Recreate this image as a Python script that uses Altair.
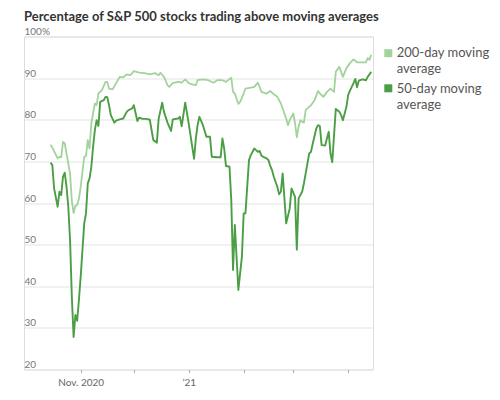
import altair as alt
import pandas as pd

title_text = "Percentage of S&P 500 stocks trading above moving averages"
series_names = ["200-day moving average", "50-day moving average"]
legend_lines = [["200-day moving", "average"], ["50-day moving", "average"]]
series_colors = ["#a2d39b", "#4c9e45"]

dates_200 = [
    "2020-10-15", "2020-10-16", "2020-10-19", "2020-10-20", "2020-10-21", "2020-10-22",
    "2020-10-23", "2020-10-25", "2020-10-26", "2020-10-27", "2020-10-28", "2020-10-29",
    "2020-10-30", "2020-10-31", "2020-11-01", "2020-11-03", "2020-11-04", "2020-11-05",
    "2020-11-06", "2020-11-07", "2020-11-09", "2020-11-10", "2020-11-11", "2020-11-13",
    "2020-11-15", "2020-11-16", "2020-11-17", "2020-11-19", "2020-11-21", "2020-11-23",
    "2020-11-25", "2020-11-27", "2020-11-29", "2020-12-01", "2020-12-04", "2020-12-07",
    "2020-12-10", "2020-12-13", "2020-12-15", "2020-12-16", "2020-12-18", "2020-12-20",
    "2020-12-21", "2020-12-23", "2020-12-26", "2020-12-28", "2020-12-30", "2021-01-01",
    "2021-01-03", "2021-01-05", "2021-01-06", "2021-01-09", "2021-01-12", "2021-01-15",
    "2021-01-17", "2021-01-20", "2021-01-22", "2021-01-25", "2021-01-26", "2021-01-27",
    "2021-01-29", "2021-01-30", "2021-02-01", "2021-02-02", "2021-02-05", "2021-02-07",
    "2021-02-09", "2021-02-10", "2021-02-11", "2021-02-14", "2021-02-16", "2021-02-18",
    "2021-02-20", "2021-02-22", "2021-02-23", "2021-02-25", "2021-02-26", "2021-02-27",
    "2021-03-01", "2021-03-02", "2021-03-03", "2021-03-04", "2021-03-05", "2021-03-07",
    "2021-03-08", "2021-03-11", "2021-03-13", "2021-03-15", "2021-03-16", "2021-03-18",
    "2021-03-20", "2021-03-22", "2021-03-24", "2021-03-25", "2021-03-27", "2021-03-29",
    "2021-03-31", "2021-04-02", "2021-04-04", "2021-04-06", "2021-04-09", "2021-04-11",
    "2021-04-12", "2021-04-13", "2021-04-14",
]
values_200 = [
    74.0, 73.3, 70.7, 71.1, 71.0, 74.7,
    74.3, 69.5, 67.0, 60.5, 57.6, 59.3,
    59.5, 61.0, 63.9, 71.1, 71.3, 75.1,
    73.1, 79.1, 83.9, 83.5, 86.3, 87.1,
    89.1, 89.1, 87.5, 87.3, 88.8, 90.3,
    90.2, 90.9, 90.7, 91.7, 91.3, 91.2,
    90.9, 91.2, 90.7, 91.3, 90.3, 88.3,
    87.9, 88.8, 89.1, 88.9, 89.7, 88.8,
    88.5, 88.3, 89.5, 89.7, 89.5, 88.9,
    89.5, 89.5, 89.1, 90.1, 86.7, 86.3,
    83.8, 84.3, 86.3, 87.5, 87.7, 87.9,
    88.9, 87.9, 86.7, 86.3, 86.9, 86.1,
    85.5, 83.9, 82.7, 80.3, 78.7, 79.9,
    81.5, 79.1, 75.8, 78.3, 79.9, 79.3,
    82.3, 83.5, 84.7, 86.9, 86.3, 85.5,
    86.7, 87.5, 86.7, 91.5, 92.7, 90.3,
    92.4, 93.6, 94.5, 93.8, 93.8, 93.8,
    94.8, 94.4, 95.6,
]

dates_50 = [
    "2020-10-15", "2020-10-16", "2020-10-17", "2020-10-19", "2020-10-20", "2020-10-21",
    "2020-10-22", "2020-10-23", "2020-10-24", "2020-10-25", "2020-10-26", "2020-10-27",
    "2020-10-28", "2020-10-29", "2020-10-30", "2020-10-31", "2020-11-01", "2020-11-03",
    "2020-11-04", "2020-11-05", "2020-11-06", "2020-11-07", "2020-11-08", "2020-11-09",
    "2020-11-10", "2020-11-11", "2020-11-12", "2020-11-14", "2020-11-15", "2020-11-16",
    "2020-11-17", "2020-11-18", "2020-11-20", "2020-11-21", "2020-11-23", "2020-11-25",
    "2020-11-27", "2020-11-28", "2020-11-30", "2020-12-01", "2020-12-03", "2020-12-04",
    "2020-12-06", "2020-12-08", "2020-12-10", "2020-12-12", "2020-12-14", "2020-12-15",
    "2020-12-17", "2020-12-18", "2020-12-20", "2020-12-22", "2020-12-23", "2020-12-26",
    "2020-12-27", "2020-12-28", "2020-12-30", "2021-01-01", "2021-01-04", "2021-01-05",
    "2021-01-06", "2021-01-07", "2021-01-09", "2021-01-11", "2021-01-13", "2021-01-14",
    "2021-01-17", "2021-01-19", "2021-01-20", "2021-01-21", "2021-01-22", "2021-01-24",
    "2021-01-25", "2021-01-26", "2021-01-27", "2021-01-29", "2021-01-30", "2021-01-31",
    "2021-02-01", "2021-02-02", "2021-02-04", "2021-02-05", "2021-02-07", "2021-02-08",
    "2021-02-09", "2021-02-10", "2021-02-11", "2021-02-12", "2021-02-14", "2021-02-15",
    "2021-02-16", "2021-02-17", "2021-02-18", "2021-02-20", "2021-02-21", "2021-02-22",
    "2021-02-23", "2021-02-25", "2021-02-27", "2021-02-28", "2021-03-02", "2021-03-03",
    "2021-03-04", "2021-03-06", "2021-03-07", "2021-03-09", "2021-03-10", "2021-03-11",
    "2021-03-12", "2021-03-14", "2021-03-15", "2021-03-16", "2021-03-17", "2021-03-19",
    "2021-03-20", "2021-03-21", "2021-03-22", "2021-03-23", "2021-03-25", "2021-03-27",
    "2021-03-28", "2021-03-29", "2021-03-31", "2021-04-01", "2021-04-02", "2021-04-04",
    "2021-04-05", "2021-04-06", "2021-04-07", "2021-04-09", "2021-04-11", "2021-04-12",
    "2021-04-14",
]
values_50 = [
    69.7, 69.1, 63.5, 59.1, 62.7, 61.9,
    66.3, 67.3, 63.9, 59.1, 51.1, 37.5,
    27.8, 33.1, 31.7, 36.7, 42.3, 55.1,
    57.5, 64.7, 65.9, 68.7, 73.5, 77.5,
    79.9, 78.5, 84.3, 84.7, 85.5, 85.4,
    83.5, 81.1, 79.3, 79.8, 80.1, 80.3,
    81.9, 82.3, 82.7, 83.5, 79.7, 80.5,
    80.2, 80.2, 80.0, 75.1, 74.5, 80.2,
    84.1, 81.9, 79.3, 77.3, 80.1, 80.3,
    80.7, 78.4, 84.1, 79.0, 70.6, 75.5,
    78.7, 80.7, 78.7, 75.9, 75.9, 71.1,
    71.0, 71.0, 75.5, 73.1, 68.9, 68.7,
    60.7, 43.9, 54.7, 39.1, 43.1, 47.1,
    57.5, 57.5, 70.3, 71.5, 73.1, 72.7,
    72.3, 72.5, 71.4, 71.1, 70.7, 70.3,
    68.9, 67.9, 66.3, 63.9, 62.1, 62.7,
    67.1, 55.1, 58.7, 63.5, 61.5, 48.8,
    61.1, 62.7, 64.7, 69.5, 71.9, 72.3,
    74.3, 77.9, 78.7, 78.5, 73.9, 73.8,
    75.5, 77.1, 71.9, 69.8, 82.6, 81.9,
    81.1, 79.9, 83.1, 86.0, 87.0, 88.8,
    89.8, 87.8, 89.4, 89.7, 89.5, 90.3,
    91.5,
]

y_ticks = [20, 30, 40, 50, 60, 70, 80, 90, 100]
y_tick_labels = ["\u200720", "\u200730", "\u200740", "\u200750", "\u200760",
                 "\u200770", "\u200780", "\u200790", "100%"]
x_tick_dates = ["2020-11-01", "2020-12-01", "2021-01-01", "2021-02-01", "2021-03-01", "2021-04-01"]
x_tick_labels = ["Nov. 2020", "", "\u201921", "", "", ""]
x_domain = ["2020-09-30", "2021-04-15"]


def to_dt(s):
    y, m, d = (int(p) for p in s.split("-"))
    return alt.DateTime(year=y, month=m, date=d)


df200 = pd.DataFrame({"date": [d + "T00:00:00" for d in dates_200],
                      "value": values_200, "series": series_names[0]})
df50 = pd.DataFrame({"date": [d + "T00:00:00" for d in dates_50],
                     "value": values_50, "series": series_names[1]})

x_expr = " : ".join(
    f"timeFormat(datum.value, '%Y-%m-%d') == '{d}' ? '{lab}'"
    for d, lab in zip(x_tick_dates, x_tick_labels) if lab
) + " : ''"
y_expr = " : ".join(
    f"datum.value == {v} ? '{lab}'" for v, lab in zip(y_ticks, y_tick_labels)
) + " : datum.label"

x_enc = alt.X(
    "date:T",
    title=None,
    scale=alt.Scale(domain=[to_dt(x_domain[0]), to_dt(x_domain[1])]),
    axis=alt.Axis(
        values=[to_dt(s) for s in x_tick_dates], labelExpr=x_expr,
        grid=False, domain=False, ticks=True, tickSize=3, tickColor="#aaaaaa",
        labelFont="Lato", labelFontSize=10, labelColor="#666666",
        labelPadding=5, labelFlush=False, labelOverlap=False, labelBound=False,
    ),
)
y_enc = alt.Y(
    "value:Q",
    title=None,
    scale=alt.Scale(domain=[20, 100], nice=False, zero=False),
    axis=alt.Axis(
        values=y_ticks, labelExpr=y_expr,
        grid=True, gridColor="#e3e3e3", gridWidth=1,
        domain=False, ticks=False, tickSize=0,
        labelAlign="left", labelBaseline="alphabetic", labelOffset=-2, labelPadding=0,
        labelFont="Lato", labelFontSize=10, labelColor="#777777",
        labelFlush=False, labelOverlap=False, labelBound=False,
    ),
)
color_enc = alt.Color("series:N", scale=alt.Scale(domain=series_names, range=series_colors), legend=None)

line200 = alt.Chart(df200).mark_line(strokeWidth=1.8, strokeJoin="round").encode(
    x=x_enc, y=y_enc, color=color_enc)
line50 = alt.Chart(df50).mark_line(strokeWidth=1.9, strokeJoin="round").encode(
    x=x_enc, y=y_enc, color=color_enc)

legend_layers = []
sq_y = [16.7, 51.8]
txt_y = [20.8, 56.8]
for i in range(2):
    src = pd.DataFrame({"series": [series_names[i]]})
    legend_layers.append(
        alt.Chart(src).mark_square(size=64, opacity=1).encode(
            x=alt.value(364.3), y=alt.value(sq_y[i]), color=color_enc))
    legend_layers.append(
        alt.Chart(src).mark_text(align="left", baseline="alphabetic", font="Lato",
                                 fontSize=13, color="#555555", lineHeight=15.5).encode(
            x=alt.value(372.7), y=alt.value(txt_y[i]), text=alt.value(legend_lines[i])))

chart = alt.layer(line200, line50, *legend_layers).properties(
    width=349,
    height=333,
    title=alt.TitleParams(text=title_text, anchor="start", font="Lato", fontSize=13,
                          fontWeight="bold", color="#333333", offset=3),
    padding={"left": 16, "top": 28.5, "right": 118, "bottom": 22},
    autosize=alt.AutoSizeParams(type="none"),
).configure_view(stroke=None).configure(background="white")

chart.save("out.html", embed_options={"renderer": "svg", "actions": False})
